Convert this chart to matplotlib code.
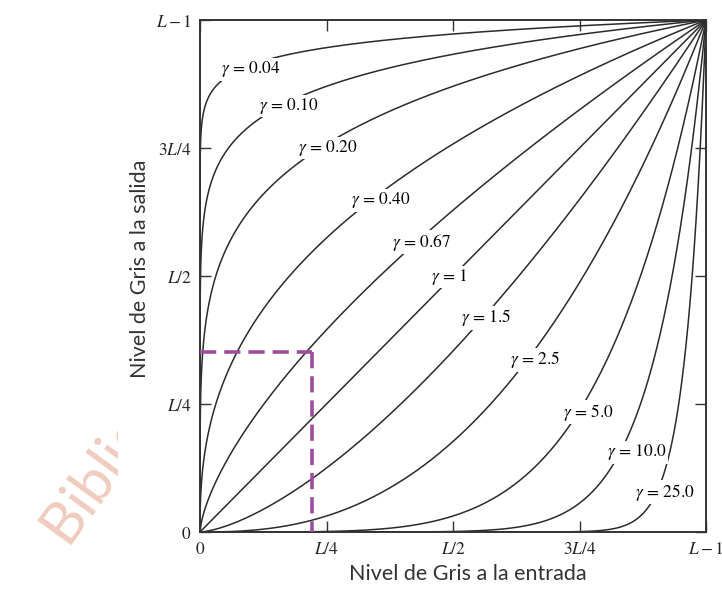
import matplotlib
matplotlib.use("Agg")
import matplotlib.pyplot as plt
import numpy as np
from matplotlib.patches import Rectangle

# gamma values of the power-law curves s = c * r**gamma
gammas = [0.04, 0.10, 0.20, 0.40, 0.67, 1, 1.5, 2.5, 5.0, 10.0, 25.0]
gamma_text = ["0.04", "0.10", "0.20", "0.40", "0.67", "1", "1.5", "2.5", "5.0", "10.0", "25.0"]
# label positions (fraction of L-1)
label_x = [0.101, 0.176, 0.253, 0.358, 0.437, 0.492, 0.565, 0.662, 0.767, 0.864, 0.919]
label_y = [0.904, 0.832, 0.750, 0.648, 0.566, 0.498, 0.418, 0.336, 0.234, 0.156, 0.078]

tick_pos = [0, 0.25, 0.5, 0.75, 1.0]
tick_labels = ["$0$", "$L/4$", "$L/2$", "$3L/4$", "$L-1$"]

# highlighted point on the gamma = 0.67 curve
mark_x = 0.221
mark_y = 0.352

plt.rcParams["mathtext.fontset"] = "stix"

fig = plt.figure(figsize=(7.22, 5.97), dpi=100)

# watermark behind the scanned picture
fig.text(0.095, 0.08, "Biblioteca Digital", rotation=54, rotation_mode="anchor",
         ha="left", va="baseline", fontsize=42, family="Lato", color="#EFCCBE", zorder=-3)
fig.patches.append(Rectangle((118 / 722, 0), 1, (597 - 13) / 597, transform=fig.transFigure,
                             facecolor="white", edgecolor="none", zorder=-2))

ax = fig.add_axes([200 / 722, 65 / 597, 506 / 722, 512 / 597])
ax.set_facecolor("white")

r = np.linspace(0, 1, 2000)
for g, gt, lx, ly in zip(gammas, gamma_text, label_x, label_y):
    ax.plot(r, r ** g, color="#2b2b2b", lw=1.1)
    ax.text(lx, ly, r"$\gamma$ = " + gt, ha="center", va="center", fontsize=12.5,
            family="STIXGeneral",
            bbox=dict(facecolor="white", edgecolor="none", pad=1.0))

ax.plot([0, mark_x], [mark_y, mark_y], color="#9C4D9E", lw=2.6, ls=(0, (4.5, 2.2)), zorder=5)
ax.plot([mark_x, mark_x], [mark_y, 0], color="#9C4D9E", lw=2.6, ls=(0, (4.5, 2.2)), zorder=5)

ax.set_xlim(0, 1)
ax.set_ylim(0, 1)
ax.set_xticks(tick_pos)
ax.set_yticks(tick_pos)
ax.set_xticklabels(tick_labels, fontsize=12.5)
ax.set_yticklabels(tick_labels, fontsize=12.5)
ax.tick_params(direction="in", length=8, width=1, top=True, right=True,
               color="#333333", labelcolor="#222222", pad=6)
for s in ax.spines.values():
    s.set_linewidth(1.4)
    s.set_color("#333333")

ax.set_xlabel("Nivel de Gris a la entrada", fontsize=15.5, family="Lato", color="#333333")
ax.set_ylabel("Nivel de Gris a la salida", fontsize=15.5, family="Lato", color="#333333")
ax.xaxis.set_label_coords(0.530, -0.062)
ax.yaxis.set_label_coords(-0.099, 0.514)

fig.savefig("out.png", dpi=100)
